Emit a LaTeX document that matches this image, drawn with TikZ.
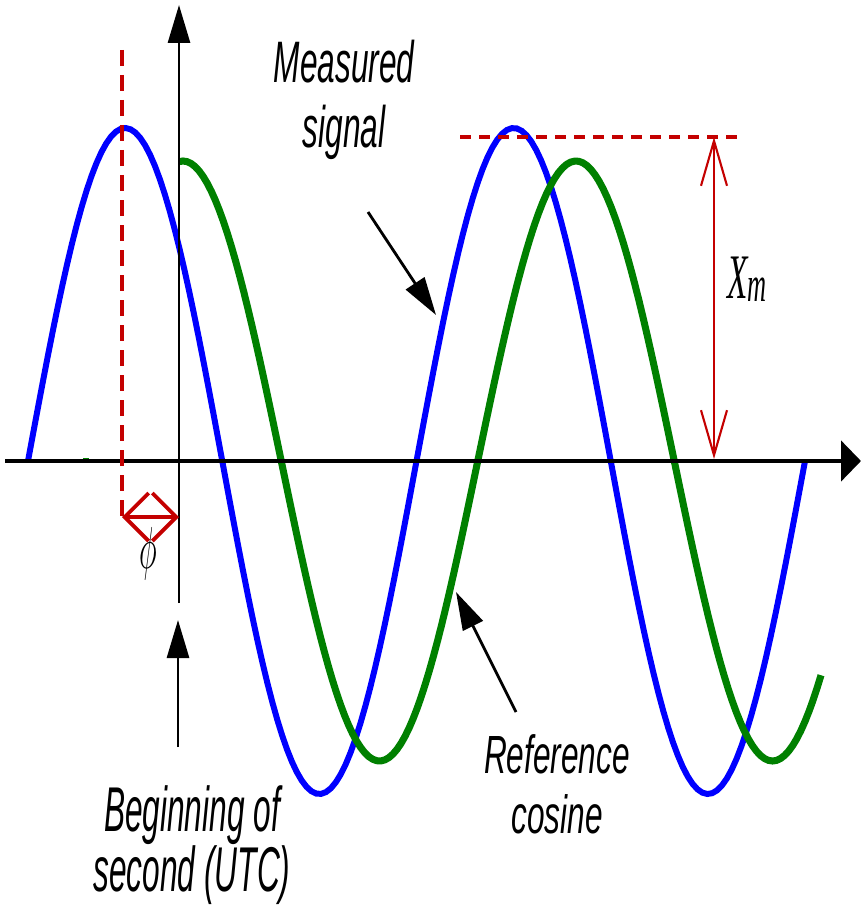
\documentclass[tikz,border=0pt]{standalone}
\usepackage{fontspec}
\setmainfont{Liberation Sans}
\newfontfamily\ampfont{Liberation Serif}
\usetikzlibrary{arrows.meta}
\definecolor{signalblue}{RGB}{0, 0, 255}
\definecolor{cosinegreen}{RGB}{0, 128, 0}
\definecolor{markred}{RGB}{196, 0, 0}

\begin{document}
\begin{tikzpicture}[
	x=0.2mm, y=-0.2mm,
	% Styles
	signalwave/.style={draw=signalblue, line width=3.4pt},
	cosinewave/.style={draw=cosinegreen, line width=4pt},
	pointer/.style={-{Triangle[length=7.6mm, width=4.4mm]}, line width=1.6pt},
	guideline/.style={draw=markred, dash pattern=on 3.2mm off 1.8mm, line width=2pt},
	peakline/.style={draw=markred, dash pattern=on 2.2mm off 1.6mm, line width=2.8pt},
	labeltext/.style={font=\fontsize{18}{20}\selectfont\itshape, align=center, inner sep=0pt, yscale=#1},
	labeltext/.default=1.85,
	mathtext/.style={font=\fontsize{18}{20}\selectfont, inner sep=0pt, yscale=#1},
	mathtext/.default=1.9
	]
	\useasboundingbox (0, 0) rectangle (861, 908);
	
	% ==========================================
	% WAVES: measured signal and reference cosine
	% ==========================================
	
	% Measured signal (blue)
	\draw[signalwave] plot[domain=28:805, samples=160] (\x, {461-333*sin((\x-28)*0.92664)});
	
	% Reference cosine (green), starting at the second mark
	\draw[cosinewave] plot[domain=179:821, samples=160] (\x, {461-300*cos((\x-183)*0.91603)});
	\draw[draw=cosinegreen, line width=1.2pt] (83, 459) -- (89, 459);
	
	% ==========================================
	% AXES
	% ==========================================
	\coordinate (tLeft) at (5, 461);
	\coordinate (tRight) at (861, 461);
	\coordinate (vBottom) at (179, 603);
	\coordinate (vTop) at (179, 5);
	\draw[-{Triangle[length=4mm, width=8mm]}, line width=2.8pt] (tLeft) -- (tRight);
	\draw[pointer] (vBottom) -- (vTop);
	
	% ==========================================
	% MARKERS: phase and amplitude
	% ==========================================
	
	% Phase phi
	\coordinate (peakOne) at (122, 50);
	\coordinate (phiLeft) at (122, 517);
	\coordinate (phiRight) at (179, 517);
	\draw[guideline] (peakOne) -- (phiLeft);
	\draw[{Straight Barb[length=4.8mm, width=9.6mm]}-{Straight Barb[length=4.8mm, width=9.6mm]}, markred, line width=2.2pt] (phiLeft) -- (phiRight);
	\node[mathtext=1.95] (phi) at (148, 554) {$\phi$};
	
	% Amplitude X_m
	\coordinate (peakStart) at (460, 137);
	\coordinate (peakEnd) at (738, 137);
	\coordinate (ampTop) at (714, 137);
	\coordinate (ampBottom) at (714, 459);
	\draw[peakline] (peakStart) -- (peakEnd);
	\draw[{Straight Barb[length=9mm, width=5.2mm]}-{Straight Barb[length=9mm, width=5.2mm]}, markred, line width=1.2pt] (ampTop) -- (ampBottom);
	\node[mathtext, font=\fontsize{19}{20}\selectfont\ampfont\itshape] (amp) at (747, 279) {X\raisebox{-1pt}{\fontsize{15}{16}\selectfont m}};
	
	% ==========================================
	% LABELS AND POINTERS
	% ==========================================
	\node[labeltext] (measLabel) at (344, 100) {Measured\\signal};
	\node[labeltext=2.0] (secLabel) at (192, 845) {Beginning of\\[-3pt]second (UTC)};
	\node[labeltext=1.7] (refLabel) at (557, 784) {Reference\\cosine};
	
	\coordinate (measTail) at (368, 212);
	\coordinate (measTip) at (436, 315);
	\draw[pointer] (measTail) -- (measTip);
	
	\coordinate (refTail) at (516, 712);
	\coordinate (refTip) at (456, 592);
	\draw[pointer] (refTail) -- (refTip);
	
	\coordinate (secTail) at (178, 747);
	\coordinate (secTip) at (178, 620);
	\draw[pointer] (secTail) -- (secTip);
	
\end{tikzpicture}
\end{document}
